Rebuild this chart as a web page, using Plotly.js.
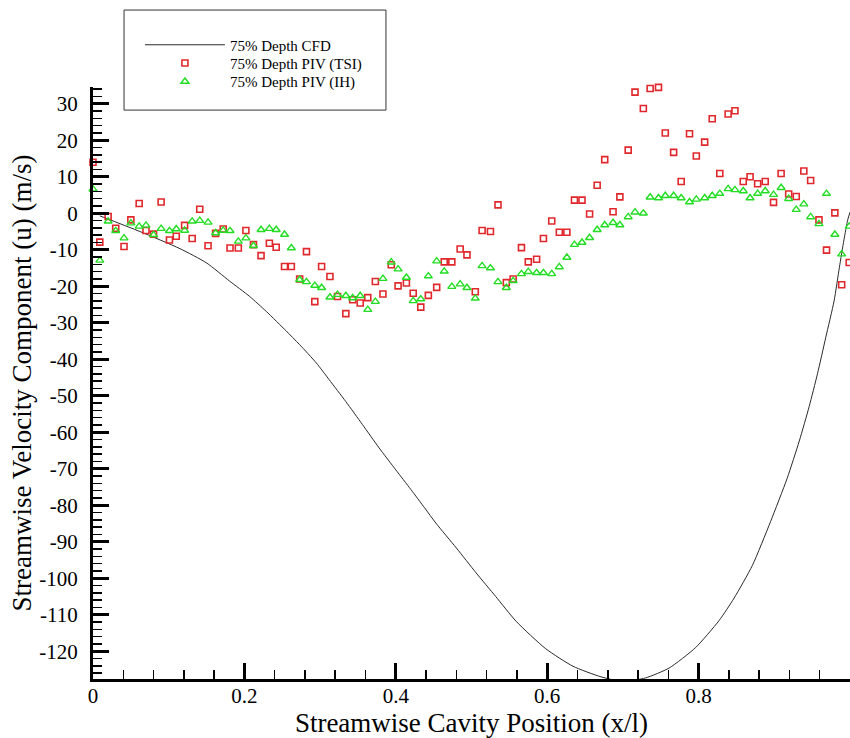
<!DOCTYPE html>
<html>
<head>
<meta charset="utf-8">
<script src="https://cdn.plot.ly/plotly-3.0.1.min.js"></script>
<style>html,body{margin:0;padding:0;background:#fff;}#chart{width:850px;height:738px;}</style>
</head>
<body>
<div id="chart"></div>
<script>
// CFD line (75% depth)
const cfdX = [0.009, 0.062, 0.115, 0.150, 0.180, 0.207, 0.229, 0.255, 0.273, 0.295, 0.312, 0.334, 0.356, 0.378, 0.400, 0.420, 0.438, 0.453, 0.480, 0.506, 0.532, 0.559, 0.598, 0.634, 0.671, 0.700, 0.730, 0.761, 0.796, 0.827, 0.847, 0.871, 0.895, 0.917, 0.933, 0.946, 0.957, 0.968, 0.979, 0.986, 0.992, 0.997, 1.000];
const cfdY = [-0.7, -5.0, -9.7, -13.6, -18.5, -22.8, -26.9, -32.2, -36.0, -41.0, -45.6, -51.6, -57.9, -64.3, -70.3, -75.7, -80.7, -84.9, -91.7, -98.5, -105.0, -111.8, -119.3, -124.1, -127.0, -128.3, -127.3, -124.6, -119.0, -111.6, -105.4, -96.5, -84.5, -72.6, -62.4, -53.0, -44.0, -34.0, -24.0, -14.8, -7.3, -1.8, 0.3];

// PIV measurement positions (x/l)
const pivX = [0.000, 0.009, 0.020, 0.030, 0.041, 0.050, 0.061, 0.070, 0.080, 0.090,
  0.101, 0.110, 0.121, 0.131, 0.141, 0.152, 0.162, 0.172, 0.181, 0.192,
  0.202, 0.212, 0.222, 0.233, 0.242, 0.253, 0.262, 0.273, 0.282, 0.293,
  0.302, 0.313, 0.323, 0.334, 0.343, 0.353, 0.363, 0.373, 0.383, 0.394,
  0.403, 0.414, 0.423, 0.433, 0.443, 0.454, 0.464, 0.474, 0.485, 0.494,
  0.505, 0.514, 0.525, 0.535, 0.546, 0.555, 0.566, 0.575, 0.586, 0.595,
  0.606, 0.616, 0.626, 0.636, 0.646, 0.656, 0.666, 0.676, 0.687, 0.696,
  0.707, 0.716, 0.727, 0.736, 0.747, 0.756, 0.767, 0.777, 0.788, 0.797,
  0.808, 0.818, 0.828, 0.839, 0.848, 0.859, 0.868, 0.878, 0.888, 0.899,
  0.909, 0.919, 0.929, 0.939, 0.948, 0.959, 0.969, 0.980, 0.989, 0.999];

// PIV (TSI) streamwise velocity
const tsiY = [14.0, -7.9, -0.9, -4.1, -9.1, -1.8, 2.7, -4.7, -5.7, 3.1,
  -7.3, -6.3, -3.3, -6.9, 1.1, -8.9, -5.5, -4.3, -9.5, -9.5,
  -4.7, -8.6, -11.6, -8.2, -9.3, -14.6, -14.6, -18.0, -10.5, -24.2,
  -14.6, -17.3, -22.8, -27.5, -23.7, -24.6, -23.1, -18.7, -22.1, -14.1,
  -19.9, -19.1, -21.9, -25.7, -22.5, -20.3, -13.3, -13.3, -9.8, -11.4,
  -21.5, -4.7, -5.0, 2.3, -19.0, -18.0, -9.4, -13.3, -12.6, -6.9,
  -2.1, -5.2, -5.2, 3.6, 3.6, -0.2, 7.7, 14.7, 0.4, 4.5,
  17.3, 33.2, 28.7, 34.2, 34.5, 22.0, 16.7, 8.7, 21.8, 15.7,
  19.5, 25.9, 10.9, 27.2, 28.1, 8.7, 10.0, 8.1, 8.7, 3.0,
  10.9, 5.3, 4.6, 11.6, 9.0, -1.8, -10.1, 0.1, -19.6, -13.5];

// PIV (IH) streamwise velocity
const ihY = [6.6, -12.9, -2.2, -4.8, -6.8, -2.7, -3.6, -3.3, -5.9, -4.2,
  -4.8, -4.3, -4.7, -2.2, -2.0, -2.5, -5.4, -4.7, -4.8, -7.7,
  -6.8, -8.9, -4.5, -4.2, -4.5, -5.8, -9.5, -18.2, -18.8, -19.8,
  -20.4, -23.0, -22.3, -22.6, -23.2, -22.6, -26.4, -24.2, -17.9, -13.4,
  -15.3, -17.6, -24.0, -23.5, -17.2, -13.1, -15.9, -20.1, -19.4, -20.4,
  -23.3, -14.4, -15.0, -18.8, -20.4, -18.5, -16.6, -16.0, -16.3, -16.3,
  -16.6, -14.7, -12.1, -8.6, -8.0, -6.7, -4.5, -3.2, -2.6, -3.2,
  -1.0, 0.3, 0.0, 4.4, 4.2, 4.8, 4.8, 4.2, 3.1, 3.8,
  4.2, 4.8, 5.4, 6.7, 6.4, 6.1, 4.2, 5.4, 6.1, 5.1,
  7.0, 4.0, 1.0, 2.5, -1.0, -2.9, 5.4, -5.8, -11.2, -3.6];

const seriesNames = ['75% Depth CFD', '75% Depth PIV (TSI)', '75% Depth PIV (IH)'];
const xTickVals = [0, 0.2, 0.4, 0.6, 0.8, 1];
const xTickText = ['0', '0.2', '0.4', '0.6', '0.8', '1'];
const yTickVals = [-120, -110, -100, -90, -80, -70, -60, -50, -40, -30, -20, -10, 0, 10, 20, 30];
const yTickText = ['-120', '-110', '-100', '-90', '-80', '-70', '-60', '-50', '-40', '-30', '-20', '-10', '0', '10', '20', '30'];

const serif = 'Liberation Serif, Times New Roman, serif';

const traces = [
  {x: cfdX, y: cfdY, name: seriesNames[0], type: 'scatter', mode: 'lines', legend: 'legend',
   line: {color: '#2a2a2a', width: 1, shape: 'spline', smoothing: 0.6}},
  {x: pivX, y: tsiY, name: seriesNames[1], type: 'scatter', mode: 'markers', cliponaxis: false, legend: 'legend2',
   marker: {symbol: 'square-open', size: 6, color: '#e0282c', line: {width: 1.6, color: '#e0282c'}}},
  {x: pivX, y: ihY, name: seriesNames[2], type: 'scatter', mode: 'markers', cliponaxis: false, legend: 'legend3',
   marker: {symbol: 'triangle-up-open', size: 7, color: '#22dd22', line: {width: 1.4, color: '#22dd22'}}}
];

const axisCommon = {
  showgrid: false, zeroline: false, showline: true, linecolor: '#000', linewidth: 3,
  ticks: 'inside', ticklen: 16, tickwidth: 3, tickcolor: '#000',
  tickfont: {family: serif, size: 21, color: '#000'}, mirror: false
};

function legendAt(yc) {
  return {
    x: 0.062, y: yc, xanchor: 'left', yanchor: 'middle',
    bgcolor: 'rgba(0,0,0,0)', borderwidth: 0,
    font: {family: serif, size: 15, color: '#000'},
    itemwidth: 80
  };
}

const layout = {
  width: 850, height: 738,
  margin: {l: 93, r: 0, t: 87, b: 59},
  paper_bgcolor: '#fff', plot_bgcolor: '#fff',
  showlegend: true,
  xaxis: Object.assign({}, axisCommon, {
    range: [0, 1], tickmode: 'array', tickvals: xTickVals, ticktext: xTickText,
    minor: {dtick: 0.04, ticks: 'inside', ticklen: 9, tickwidth: 1.5, tickcolor: '#000', showgrid: false},
    ticklabelstandoff: -4,
    title: {text: 'Streamwise Cavity Position (x/l)', font: {family: serif, size: 27, color: '#000'}, standoff: 12}
  }),
  yaxis: Object.assign({}, axisCommon, {
    range: [-127.6, 34.6], tickmode: 'array', tickvals: yTickVals, ticktext: yTickText,
    minor: {dtick: 2, ticks: 'inside', ticklen: 9, tickwidth: 1.5, tickcolor: '#000', showgrid: false},
    ticklabelstandoff: 8,
    title: {text: 'Streamwise Velocity Component (u) (m/s)', font: {family: serif, size: 27, color: '#000'}, standoff: 0}
  }),
  legend: legendAt(1.0709),
  legend2: legendAt(1.0400),
  legend3: legendAt(1.0089),
  shapes: [{
    type: 'rect', xref: 'paper', yref: 'paper',
    x0: 0.041, x1: 0.387, y0: 0.961, y1: 1.130,
    line: {color: '#333', width: 1}, fillcolor: 'rgba(0,0,0,0)'
  }]
};

Plotly.newPlot('chart', traces, layout, {displayModeBar: false, staticPlot: true});
</script>
</body>
</html>
